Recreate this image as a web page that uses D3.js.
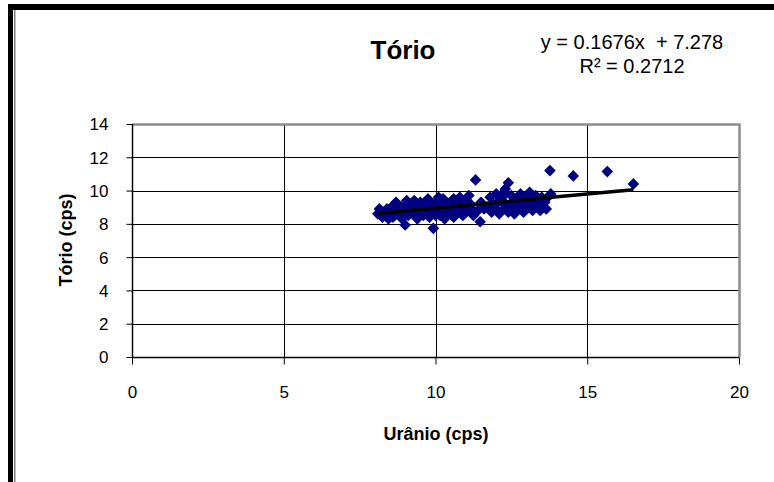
<!DOCTYPE html>
<html>
<head>
<meta charset="utf-8">
<script src="https://cdn.jsdelivr.net/npm/d3@7"></script>
<style>
    body { margin: 0; background: #fff; }
    svg { display: block; }
    text { font-family: "Liberation Sans", Arial, sans-serif; fill: #000; }
</style>
</head>
<body>
<svg id="chart" width="774" height="482"></svg>
<script>
// uranio (cps) / torio (cps) pairs
var uranio = [
    8.1, 8.15, 8.25, 8.3, 8.4, 8.45, 8.5, 8.6, 8.6, 8.7, 8.75, 8.8, 8.9, 8.9, 9.0,
    9.0, 9.1, 9.1, 9.2, 9.25, 9.3, 9.4, 9.4, 9.5, 9.5, 9.6, 9.6, 9.7, 9.75, 9.8,
    9.8, 9.9, 9.93, 10.0, 10.0, 10.05, 10.1, 10.2, 10.2, 10.3, 10.3, 10.4, 10.45, 10.5, 10.6,
    10.6, 10.7, 10.75, 10.8, 10.9, 10.9, 11.0, 11.0, 11.1, 11.2, 11.25, 11.32, 11.4, 11.47, 11.5,
    11.7, 11.8, 11.85, 11.9, 12.0, 12.0, 12.1, 12.15, 12.2, 12.2, 12.3, 12.3, 12.4, 12.4, 12.5,
    12.5, 12.6, 12.65, 12.7, 12.7, 12.8, 12.85, 12.9, 12.9, 13.0, 13.0, 13.1, 13.15, 13.2, 13.2,
    13.3, 13.35, 13.4, 13.45, 13.5, 13.6, 13.65, 13.7, 13.77, 13.8, 14.54, 15.66, 16.52,
    8.35, 8.55, 8.95, 9.15, 9.35, 9.55, 9.85, 10.15, 10.35, 10.55, 10.85, 11.15, 12.05, 12.45, 12.75, 13.05,
    8.2, 8.65, 9.05, 9.45, 9.65, 10.25, 10.65, 10.95, 11.6, 12.25, 12.55, 12.95, 13.25, 13.55
];
var torio = [
    8.6, 8.9, 8.4, 8.7, 8.9, 8.3, 8.6, 9.1, 8.4, 9.3, 8.8, 8.6, 8.3, 9.0, 7.93,
    8.8, 8.5, 9.2, 8.9, 8.6, 9.4, 8.3, 9.0, 9.3, 8.7, 8.5, 9.1, 8.9, 9.5, 8.4,
    9.2, 8.7, 7.73, 9.3, 8.5, 8.9, 9.6, 8.7, 9.1, 8.3, 9.4, 8.8, 9.2, 8.6, 8.4,
    9.5, 8.8, 9.2, 9.6, 8.5, 9.0, 9.3, 8.7, 9.7, 8.9, 8.5, 10.64, 8.8, 8.13, 9.3,
    9.0, 9.6, 8.7, 9.2, 9.8, 8.9, 8.6, 9.4, 9.6, 8.8, 10.1, 9.2, 10.47, 8.7, 9.7,
    9.0, 8.6, 9.3, 9.5, 8.9, 9.8, 9.1, 9.3, 8.7, 9.6, 8.9, 9.9, 9.2, 9.5, 8.8,
    9.7, 9.0, 9.3, 8.8, 9.6, 9.3, 8.9, 9.6, 11.2, 9.8, 10.88, 11.14, 10.4,
    8.5, 8.8, 9.1, 8.7, 9.0, 9.2, 9.0, 8.5, 8.9, 9.4, 8.7, 9.2, 9.3, 9.0, 9.1, 9.4,
    8.8, 8.6, 9.4, 8.6, 9.3, 9.5, 9.0, 8.8, 8.9, 9.9, 8.8, 9.5, 9.1, 9.0
];
var xTicks = [0, 5, 10, 15, 20];
var yTicks = [0, 2, 4, 6, 8, 10, 12, 14];
var trend = { slope: 0.1676, intercept: 7.278 };
var eqLines = ["y = 0.1676x  + 7.278", "R\u00b2 = 0.2712"];

var svg = d3.select("#chart");

// frame: thick black top and left, thin grey inner line
svg.append("rect").attr("x", 8).attr("y", 4).attr("width", 766).attr("height", 6).attr("fill", "#000");
svg.append("rect").attr("x", 8).attr("y", 4).attr("width", 5).attr("height", 478).attr("fill", "#000");
svg.append("rect").attr("x", 14).attr("y", 10).attr("width", 1.5).attr("height", 472).attr("fill", "#808080");

var plotL = 132, plotR = 739, plotT = 124, plotB = 357;
var x = d3.scaleLinear().domain([0, 20]).range([plotL, plotR]);
var y = d3.scaleLinear().domain([0, 14]).range([plotB, plotT]);

// grid
svg.append("g")
    .selectAll("line")
    .data(yTicks.filter((d) => d > 0 && d < 14))
    .enter()
    .append("line")
    .attr("x1", plotL).attr("x2", plotR)
    .attr("y1", (d) => Math.round(y(d)) + 0.5).attr("y2", (d) => Math.round(y(d)) + 0.5)
    .attr("stroke", "#000").attr("stroke-width", 1);
svg.append("g")
    .selectAll("line")
    .data(xTicks.filter((d) => d > 0 && d < 20))
    .enter()
    .append("line")
    .attr("y1", plotT).attr("y2", plotB)
    .attr("x1", (d) => Math.round(x(d)) + 0.5).attr("x2", (d) => Math.round(x(d)) + 0.5)
    .attr("stroke", "#000").attr("stroke-width", 1);

// plot border (grey top and right)
svg.append("path")
    .attr("d", "M" + plotL + "," + (plotT + 0.5) + "H" + (plotR + 0.5) + "V" + plotB)
    .attr("fill", "none").attr("stroke", "#8c8c8c").attr("stroke-width", 2.5);

// axes
var xAxis = d3.axisBottom(x).tickValues(xTicks).tickSize(7).tickPadding(21);
var yAxis = d3.axisLeft(y).tickValues(yTicks).tickSize(6).tickPadding(18);

var gx = svg.append("g").attr("transform", "translate(0," + (plotB + 0.5) + ")").call(xAxis);
var gy = svg.append("g").attr("transform", "translate(" + (plotL + 0.5) + ",0)").call(yAxis);
[gx, gy].forEach(function (g) {
    g.attr("font-size", 17).attr("font-family", "Liberation Sans, Arial, sans-serif");
    g.select(".domain").attr("stroke", "#000").attr("stroke-width", 1.5);
    g.selectAll(".tick line").attr("stroke", "#000");
    g.selectAll(".tick text").attr("fill", "#222");
});
gy.select(".domain").attr("d", "M0," + plotB + "V" + plotT);
gx.select(".domain").attr("d", "M" + plotL + ",0H" + plotR);
gy.selectAll(".tick text").attr("dy", "0.35em");

// points
var pts = uranio.map((u, i) => ({ u: u, t: torio[i] }));
svg.append("g")
    .selectAll("path")
    .data(pts)
    .enter()
    .append("path")
    .attr("d", d3.symbol().type(d3.symbolDiamond2).size(86))
    .attr("transform", (d) => "translate(" + x(d.u) + "," + y(d.t) + ")")
    .attr("fill", "#000080");

// trendline
var x0 = d3.min(uranio), x1 = d3.max(uranio);
svg.append("line")
    .attr("x1", x(x0)).attr("y1", y(trend.slope * x0 + trend.intercept))
    .attr("x2", x(x1)).attr("y2", y(trend.slope * x1 + trend.intercept))
    .attr("stroke", "#000").attr("stroke-width", 3.5);

// titles
svg.append("text").attr("x", 403).attr("y", 59).attr("text-anchor", "middle")
    .attr("font-size", 26).attr("font-weight", "bold").text("Tório");

svg.selectAll(".eq")
    .data(eqLines)
    .enter()
    .append("text")
    .attr("class", "eq")
    .attr("x", 632)
    .attr("y", (d, i) => 49 + i * 24)
    .attr("text-anchor", "middle")
    .attr("font-size", 20)
    .attr("xml:space", "preserve")
    .style("white-space", "pre")
    .text((d) => d);

svg.append("text").attr("x", 436).attr("y", 440).attr("text-anchor", "middle")
    .attr("font-size", 18).attr("font-weight", "bold").text("Urânio (cps)");

svg.append("text").attr("transform", "translate(72,240) rotate(-90)").attr("text-anchor", "middle")
    .attr("font-size", 18).attr("font-weight", "bold").text("Tório (cps)");
</script>
</body>
</html>
